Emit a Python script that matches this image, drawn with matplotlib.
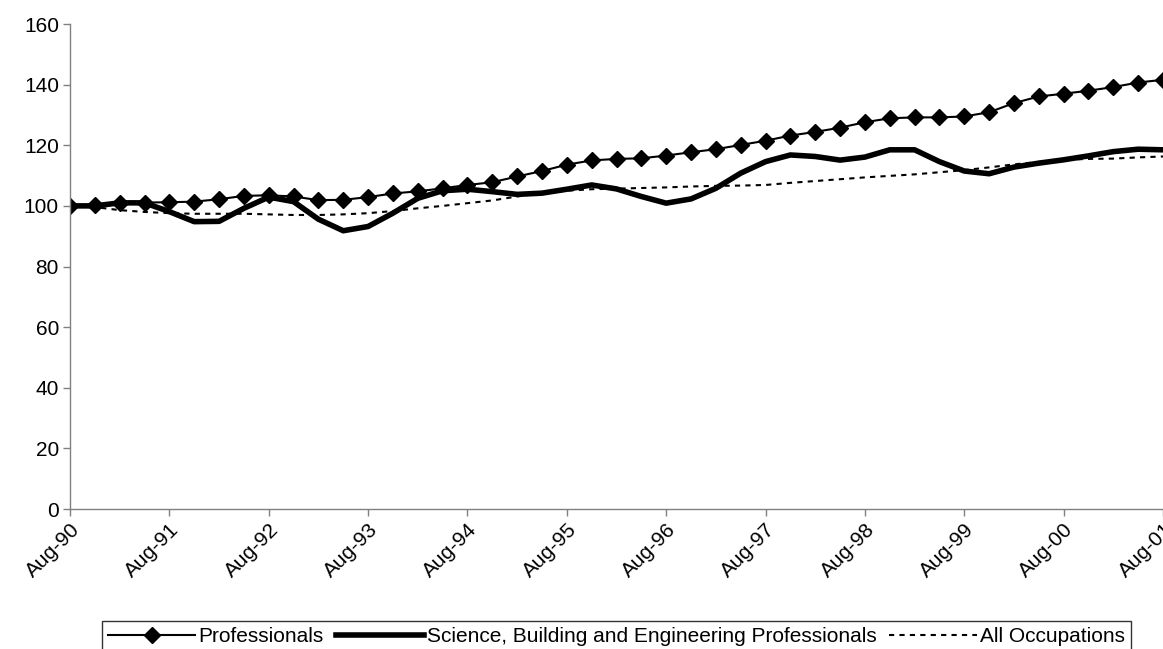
import matplotlib
matplotlib.use("Agg")
import matplotlib.pyplot as plt
import numpy as np

plt.rcParams['font.family'] = ['Liberation Sans', 'DejaVu Sans']

# quarterly index values, Aug-90 = 100
professionals = [100.0, 100.3, 101.1, 101.1, 101.2, 101.4, 102.2, 103.3, 103.5, 103.1,
                 101.9, 102.0, 102.9, 104.1, 104.8, 105.8, 106.9, 107.8, 109.7, 111.5,
                 113.6, 115.0, 115.5, 115.7, 116.6, 117.7, 118.7, 120.1, 121.5, 123.2,
                 124.4, 125.8, 127.6, 128.9, 129.2, 129.2, 129.5, 130.9, 133.9, 136.1,
                 137.0, 138.0, 139.2, 140.7, 141.6]
science_eng = [100.0, 100.0, 101.0, 101.0, 98.1, 94.8, 94.9, 99.2, 102.9, 101.4,
               95.6, 91.8, 93.2, 97.6, 102.5, 105.0, 105.5, 104.7, 103.8, 104.2,
               105.5, 106.9, 105.6, 103.1, 100.9, 102.3, 105.8, 110.8, 114.6, 116.8,
               116.3, 115.1, 116.1, 118.5, 118.5, 114.6, 111.5, 110.6, 112.8, 114.1,
               115.2, 116.5, 117.9, 118.7, 118.5]
all_occupations = [100.0, 99.6, 98.6, 98.0, 97.6, 97.4, 97.4, 97.4, 97.2, 97.0,
                   97.0, 97.2, 97.6, 98.3, 99.2, 100.0, 100.9, 101.8, 103.1, 104.2,
                   105.0, 105.5, 105.7, 105.9, 106.1, 106.4, 106.6, 106.7, 106.9, 107.6,
                   108.2, 108.8, 109.4, 109.9, 110.4, 111.1, 111.8, 112.7, 113.7, 114.5,
                   115.2, 115.5, 115.6, 116.0, 116.3]
year_labels = ['Aug-90', 'Aug-91', 'Aug-92', 'Aug-93', 'Aug-94', 'Aug-95',
               'Aug-96', 'Aug-97', 'Aug-98', 'Aug-99', 'Aug-00', 'Aug-01']

x = np.arange(len(professionals))

fig = plt.figure(figsize=(11.63, 6.49), dpi=100)
ax = fig.add_axes([0.0602, 0.2157, 0.9398, 0.7473])

ax.plot(x, professionals, color='black', lw=1.5, marker='D', markersize=8,
        label='Professionals')
ax.plot(x, science_eng, color='black', lw=4, label='Science, Building and Engineering Professionals')
ax.plot(x, all_occupations, color='black', lw=1.5, linestyle=(0, (2.5, 2.5)),
        label='All Occupations')

ax.set_xlim(0, len(x) - 1)
ax.set_ylim(0, 160)
ax.set_yticks(np.arange(0, 161, 20))
ax.set_xticks(np.arange(0, len(x), 4))
ax.set_xticklabels(year_labels, rotation=45, ha='right', rotation_mode='anchor')

for side in ['top', 'right']:
    ax.spines[side].set_visible(False)
for side in ['left', 'bottom']:
    ax.spines[side].set_color('#808080')
    ax.spines[side].set_linewidth(1)
ax.tick_params(axis='both', length=5, width=1, color='#808080', labelsize=15, pad=3)

fig.legend(loc='upper center', bbox_to_anchor=(0.530, 0.0431), ncol=3,
           frameon=True, fancybox=False, edgecolor='black', fontsize=15,
           handlelength=4.2, handletextpad=0.15, columnspacing=0.6, borderpad=0.3,
           borderaxespad=0)
leg = fig.legends[0]
leg.get_frame().set_linewidth(1)

fig.savefig('out.png', dpi=100)
